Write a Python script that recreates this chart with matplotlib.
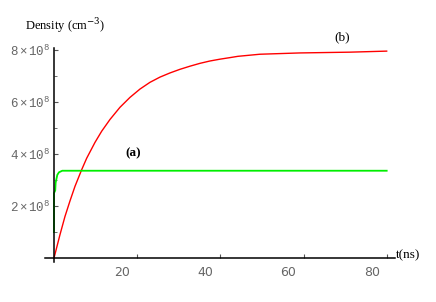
import numpy as np
import matplotlib
matplotlib.use("Agg")
import matplotlib.pyplot as plt
from matplotlib.transforms import ScaledTranslation

plt.rcParams.update({
    "mathtext.fontset": "custom",
    "mathtext.rm": "Liberation Mono",
    "mathtext.it": "Liberation Mono",
})

# curve (b): red, density in units of 1e8 cm^-3
t_b = [0, 1.44, 2.64, 3.85, 5.05, 6.66, 7.86, 9.86, 11.47, 13.46, 15.87, 18.27,
       20.67, 23.08, 25.48, 27.88, 30.29, 32.69, 35.10, 37.50, 39.90, 42.31,
       44.23, 49.5, 59.1, 71.2, 80.0]
n_b = [0, 0.9, 1.6, 2.2, 2.76, 3.4, 3.84, 4.45, 4.88, 5.33, 5.8, 6.18,
       6.5, 6.76, 6.96, 7.12, 7.26, 7.38, 7.49, 7.58, 7.65, 7.71,
       7.76, 7.84, 7.89, 7.92, 7.96]

# curve (a): green
t_a = [0, 0, 0.3, 0.4, 0.8, 1.2, 2.0, 80.0]
n_a = [1.0, 2.5, 2.6, 2.9, 3.2, 3.3, 3.36, 3.36]

y_ticks = [2, 4, 6, 8]
y_minor = [1, 3, 5, 7]
x_ticks = [20, 40, 60, 80]

fig = plt.figure(figsize=(4.36, 3.02), dpi=100)
ax = fig.add_axes([45 / 436, 40 / 302, 350 / 436, 214 / 302])

ax.plot(t_b, n_b, color="#ff0000", lw=1.0)
ax.plot(t_a, n_a, color="#00ee00", lw=1.3)

ax.set_xlim(-2.16, 82.0)
ax.set_ylim(-0.15, 8.08)

for s in ("top", "right"):
    ax.spines[s].set_visible(False)
ax.spines["left"].set_position(("data", 0))
ax.spines["bottom"].set_position(("data", 0))
ax.spines["left"].set_linewidth(1.1)
ax.spines["bottom"].set_linewidth(1.1)

ax.set_xticks(x_ticks)
ax.set_xticklabels([str(v) for v in x_ticks])
ax.set_yticks(y_ticks)
ax.set_yticks(y_minor, minor=True)
ax.set_yticklabels([r"$%d\times10^{8}$" % v for v in y_ticks])
ax.tick_params(direction="in", length=3, width=0.8, colors="#555555",
               labelsize=9, labelcolor="#666666")
ax.tick_params(which="minor", direction="in", length=2, width=0.6, colors="#555555")
ax.tick_params(axis="x", pad=6)
ax.tick_params(axis="y", pad=3)

shift = ScaledTranslation(-15 / 100, 0, fig.dpi_scale_trans)
for lab in ax.get_xticklabels():
    lab.set_transform(lab.get_transform() + shift)

serif = "Liberation Serif"
fig.text(25 / 436, 1 - 26 / 302, "Density (cm$^{-3}$)", family=serif, fontsize=9,
         va="center", ha="left", math_fontfamily="dejavuserif")
fig.text(396 / 436, 1 - 255 / 302, "t(ns)", family=serif, fontsize=9.5,
         va="center", ha="left")
fig.text(342 / 436, 1 - 37 / 302, "(b)", family=serif, fontsize=9.5,
         va="center", ha="center")
fig.text(133 / 436, 1 - 153 / 302, "(a)", family=serif, fontsize=9.5,
         va="center", ha="center", weight="bold")

fig.savefig("out.png", dpi=100)
